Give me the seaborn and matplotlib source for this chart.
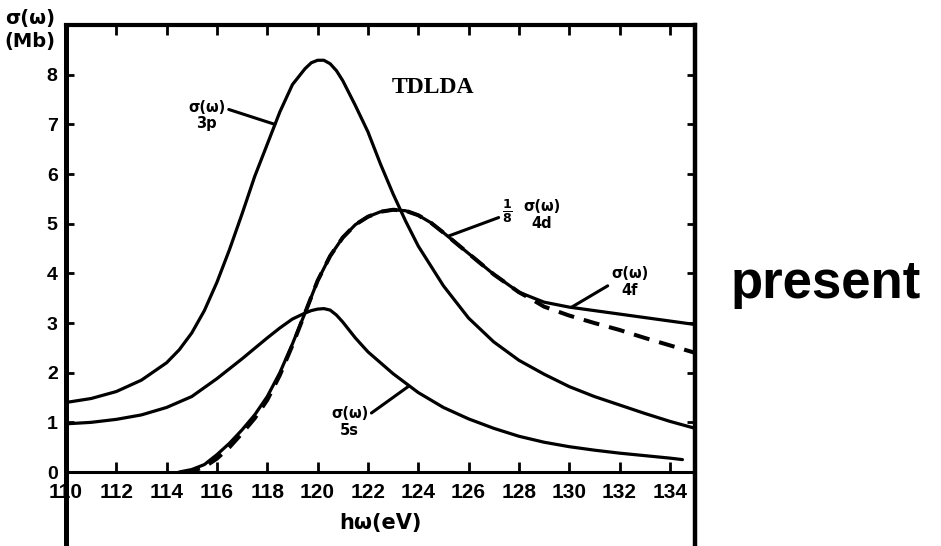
import matplotlib
matplotlib.use("Agg")
import matplotlib.pyplot as plt
import seaborn as sns
from matplotlib import font_manager

# photon energy (eV) and cross sections (Mb)
x_3p = [110, 111, 112, 113, 114, 114.5, 115, 115.5, 116, 116.5, 117, 117.5, 118, 118.5, 119,
        119.5, 119.75, 120, 120.25, 120.5, 120.75, 121, 121.5, 122, 122.5, 123, 123.5, 124,
        125, 126, 127, 128, 129, 130, 131, 132, 133, 134, 135]
sig_3p = [1.40, 1.48, 1.62, 1.85, 2.20, 2.46, 2.80, 3.25, 3.82, 4.48, 5.20, 5.95, 6.60, 7.25,
          7.80, 8.12, 8.24, 8.29, 8.29, 8.22, 8.08, 7.88, 7.38, 6.85, 6.20, 5.60, 5.05, 4.55,
          3.75, 3.10, 2.62, 2.25, 1.97, 1.72, 1.52, 1.35, 1.18, 1.02, 0.88]

x_5s = [110, 111, 112, 113, 114, 115, 116, 117, 118, 118.5, 119, 119.5, 119.75, 120, 120.25,
        120.5, 120.75, 121, 121.5, 122, 123, 124, 125, 126, 127, 128, 129, 130, 131, 132,
        133, 134, 134.5]
sig_5s = [0.97, 1.00, 1.06, 1.15, 1.30, 1.52, 1.88, 2.28, 2.70, 2.90, 3.08, 3.20, 3.25, 3.28,
          3.29, 3.26, 3.16, 3.02, 2.70, 2.42, 1.98, 1.60, 1.30, 1.07, 0.88, 0.72, 0.60, 0.51,
          0.44, 0.38, 0.33, 0.28, 0.25]

x_4f = [114.5, 115, 115.5, 116, 116.5, 117, 117.5, 118, 118.5, 119, 119.5, 120, 120.5, 121,
        121.5, 122, 122.5, 123, 123.5, 124, 124.5, 125, 126, 127, 128, 129, 130, 131, 132,
        133, 134, 135]
sig_4f = [0.0, 0.05, 0.15, 0.35, 0.58, 0.85, 1.15, 1.52, 2.00, 2.58, 3.20, 3.85, 4.35, 4.72,
          4.98, 5.14, 5.24, 5.28, 5.26, 5.17, 5.02, 4.82, 4.40, 3.98, 3.62, 3.42, 3.32, 3.25,
          3.18, 3.11, 3.04, 2.97]

x_4d = [114.7, 115, 115.5, 116, 116.5, 117, 117.5, 118, 118.5, 119, 119.5, 120, 120.5, 121,
        121.5, 122, 122.5, 123, 123.5, 124, 124.5, 125, 126, 127, 128, 128.5, 129, 130, 131,
        132, 133, 134, 135]
sig_4d_8 = [0.0, 0.02, 0.10, 0.27, 0.50, 0.78, 1.08, 1.45, 1.95, 2.55, 3.20, 3.85, 4.35, 4.72,
            4.98, 5.14, 5.24, 5.28, 5.26, 5.17, 5.02, 4.82, 4.40, 3.98, 3.62, 3.48, 3.33, 3.15,
            3.00, 2.86, 2.70, 2.55, 2.40]

x_ticks = list(range(110, 136, 2))
y_ticks = list(range(0, 9))

sns.set_style("ticks")
names = {f.name for f in font_manager.fontManager.ttflist}
narrow = "Liberation Sans Narrow" if "Liberation Sans Narrow" in names else "Liberation Sans"
plt.rcParams["font.family"] = [narrow, "DejaVu Sans"]
plt.rcParams["font.weight"] = "bold"
for key in ["text.color", "axes.edgecolor", "axes.labelcolor", "xtick.color", "ytick.color"]:
    plt.rcParams[key] = "black"

fig = plt.figure(figsize=(9.41, 5.46), dpi=100)
ax = fig.add_axes([0.0701, 0.1355, 0.6685, 0.8187])

lw = 2.3
sns.lineplot(x=x_3p, y=sig_3p, ax=ax, color="black", linewidth=lw, sort=False, estimator=None)
sns.lineplot(x=x_5s, y=sig_5s, ax=ax, color="black", linewidth=lw, sort=False, estimator=None)
sns.lineplot(x=x_4f, y=sig_4f, ax=ax, color="black", linewidth=lw, sort=False, estimator=None)
sns.lineplot(x=x_4d, y=sig_4d_8, ax=ax, color="black", linewidth=lw + 0.6, sort=False,
             estimator=None, linestyle=(0, (4, 2.5)))

ax.set_xlim(110, 135)
ax.set_ylim(0, 9)
ax.set_xticks(x_ticks)
ax.set_yticks(y_ticks)
ax.set_xticklabels([str(t) for t in x_ticks], fontsize=15, fontweight="bold")
ax.set_yticklabels([str(t) for t in y_ticks], fontsize=14, fontweight="bold")
ax.tick_params(axis="x", direction="in", length=7, width=2, top=True, pad=8)
ax.tick_params(axis="y", direction="in", length=6, width=2, right=True, pad=6)

for side, w in [("left", 3.6), ("right", 3.2), ("top", 3.0), ("bottom", 2.2)]:
    ax.spines[side].set_linewidth(w)
ax.spines["left"].set_bounds(-1.7, 9)
ax.spines["right"].set_bounds(-1.7, 9)

ax.set_xlabel("hω(eV)", fontsize=15, fontweight="bold", family="DejaVu Sans")
ax.xaxis.set_label_coords(0.5, -0.092)
ax.set_ylabel("")
ax.text(-0.057, 0.989, "σ(ω)\n(Mb)", transform=ax.transAxes, ha="center", va="center",
        fontsize=14, fontweight="bold", family="DejaVu Sans", linespacing=1.3)

ax.text(124.6, 7.74, "TDLDA", ha="center", va="center", fontsize=17, fontweight="bold",
        family="Liberation Serif")

lab = dict(fontsize=10.5, fontweight="bold", family="DejaVu Sans", ha="center", va="center",
           multialignment="center", linespacing=1.15)
ax.annotate("σ(ω)\n3p", xy=(118.3, 7.0), xytext=(115.6, 7.18),
            arrowprops=dict(arrowstyle="-", lw=2.2, color="black", shrinkA=0, shrinkB=0,
                            relpos=(1.0, 0.72)), **lab)
ax.annotate("σ(ω)\n5s", xy=(123.6, 1.72), xytext=(121.27, 1.0),
            arrowprops=dict(arrowstyle="-", lw=2.2, color="black", shrinkA=0, shrinkB=0,
                            relpos=(1.0, 0.72)), **lab)
ax.annotate("σ(ω)\n4f", xy=(130.1, 3.32), xytext=(132.4, 3.82),
            arrowprops=dict(arrowstyle="-", lw=2.2, color="black", shrinkA=0, shrinkB=0,
                            relpos=(0.0, 0.45)), **lab)
ax.annotate(r"$\mathbf{\frac{1}{8}}$", xy=(125.2, 4.75), xytext=(127.54, 5.26),
            ha="center", va="center", fontsize=13,
            arrowprops=dict(arrowstyle="-", lw=2.2, color="black", shrinkA=0, shrinkB=0,
                            relpos=(0.0, 0.3)))
ax.text(128.9, 5.18, "σ(ω)\n4d", **lab)

fig.text(0.877, 0.454, "present", ha="center", va="baseline", fontsize=38,
         fontweight="bold", family=[narrow, "DejaVu Sans"])

fig.savefig("out.png", dpi=100, facecolor="white")
